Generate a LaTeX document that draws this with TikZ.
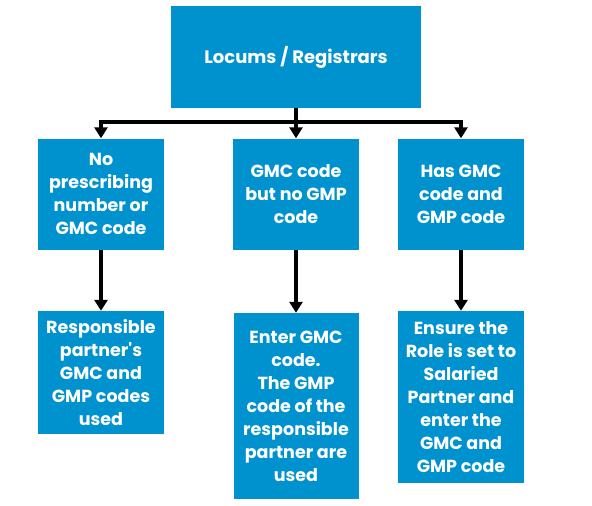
\documentclass[tikz,border=0pt]{standalone}
\usepackage{fontspec}
\setmainfont{Poppins}
\usetikzlibrary{arrows.meta}
\definecolor{boxblue}{RGB}{0,146,207}
\begin{document}
\begin{tikzpicture}[x=1pt, y=-1pt,
    box/.style={fill=boxblue, text=white, align=center, inner sep=0pt,
      font=\bfseries\fontsize{17.5}{23}\selectfont},
    conn/.style={line width=3.5pt, line join=miter, -{Triangle[width=13pt,length=11pt]}}]
  \useasboundingbox (0,0) rectangle (592,506);
  % top
  \node[box, minimum width=250pt, minimum height=102pt, font=\bfseries\fontsize{18}{23}\selectfont] (locums) at (296,57) {Locums / Registrars};
  % middle row
  \node[box, minimum width=126pt, minimum height=111pt] (nopres) at (101,194) {No\\prescribing\\number or\\GMC code};
  \node[box, minimum width=126pt, minimum height=111pt] (gmconly) at (296,194) {GMC code\\but no GMP\\code};
  \node[box, minimum width=126pt, minimum height=111pt] (hasboth) at (461,194) {Has GMC\\code and\\GMP code};
  % bottom row
  \node[box, minimum width=126pt, minimum height=123pt] (partner) at (101,372.5) {Responsible\\partner\textquotesingle s\\GMC and\\GMP codes\\used};
  \node[box, minimum width=125pt, minimum height=186pt] (enter) at (296,406) {Enter GMC\\code.\\The GMP\\code of the\\responsible\\partner are\\used};
  \node[box, minimum width=126pt, minimum height=172pt] (salaried) at (461,397) {Ensure the\\Role is set to\\Salaried\\Partner and\\enter the\\GMC and\\GMP code};
  \coordinate (bus) at (296,122);
  \draw[conn] (locums.south) -- (gmconly.north);
  \draw[conn] (bus) -| (nopres.north);
  \draw[conn] (bus) -| (hasboth.north);
  \draw[conn] (nopres.south) -- (partner.north);
  \draw[conn] (gmconly.south) -- (enter.north);
  \draw[conn] (hasboth.south) -- (salaried.north);
\end{tikzpicture}
\end{document}
